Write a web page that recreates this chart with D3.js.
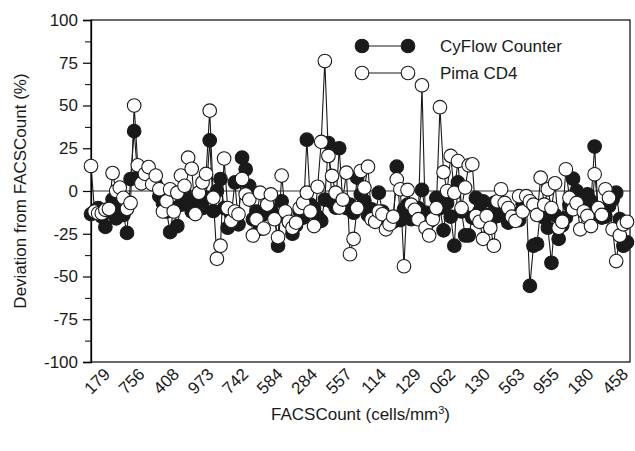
<!DOCTYPE html>
<html lang="en">
<head>
<meta charset="utf-8">
<title>Deviation from FACSCount</title>
<script src="https://cdn.jsdelivr.net/npm/d3@7"></script>
<style>
  body { margin: 0; background: #fff; }
  text { font-family: "Liberation Sans", Arial, Helvetica, sans-serif; fill: #1a1a1a; }
</style>
</head>
<body>
<div id="chart"></div>
<script>
// sample labels shown on the x axis (every ~10th sample)
var xLabels = ["179", "756", "408", "973", "742", "584", "284", "557",
               "114", "129", "062", "130", "563", "955", "180", "458"];
var yTicks = [-100, -75, -50, -25, 0, 25, 50, 75, 100];

// CyFlow Counter deviation (%) per sample
var cyflow = [
  -13.5, -12, -10, -15, -21, -12, -5, -16, -8, -14,
  -24.5, 7, 35, 8, 9, 6, 9, 5, 4, -3,
  -7, -12, -24, -10, -20.5, -8, -1, -7, -12, -5,
  -7, -10, -4, 29.6, -11.7, 0, 7, -10, -21.5, -14,
  5, -19.5, 19.5, 12.7, 3, -16.5, -12, -22, -13.5, -12,
  -10.7, -15, -32, -6, -14.6, -18, -25, -20, -12, -15.6,
  30, -8, -10, -15, -17.5, -5, 28, -6.5, -9.7, 25,
  -7, -10, -8, -12.7, 7.8, -2, -5.8, -14, -10.7, -16,
  -1, -12, -20, -16, -18, 14.2, -17, -10.7, -8, -16.5,
  -13, -10, 0.6, -12.7, -18, -14, -4, -10, -23, -7,
  -15, -32, 5, -12, -26, -26, -15.6, -4, -12, -6,
  -14, -18, -7, -14.6, -12, -9, -18.5, -15, -13.6, -17,
  -7.8, -5, -55.5, -32, -31, -10, -15.6, -21.5, -42, -14,
  -28, -20, -15.6, -8, 7.2, 0, -9, -12, -2, -6,
  26, -14, -15.6, -15, -8.8, -5, -1, -16.5, -32, -30
];

// Pima CD4 deviation (%) per sample
var pima = [
  14.6, -12, -13, -13, -11, -10.5, 10.5, 0, 2, -4,
  -10.5, -7, 50, 15, 4.5, 10, 14, 4, 9, 1,
  -12, -6, 1, -12, -1, 9, 3, 19.5, 13, -13.5,
  -1, 5, 10, 47, -4, -39.6, -32, 19, -10, -17.5,
  -12, -13.6, 7, -2, -5, -26, -16.5, -1, -22, -8,
  -2, -16.5, -27, 9, -12, -18, -21.5, -18.5, -10, -7,
  -1, -12, -20.5, 2.5, 28.7, 76, 20.5, 8.8, -1, -9.7,
  -5, 10.7, -37, -28, -10, 11.7, 2, 14.2, -16.5, -18,
  -12, -13.6, -22.4, -19.5, -15, 6.8, 1, -44, 0.6, -8,
  -11, -16.5, 61.8, -21.5, -26, -16.5, -10, 49, 11, 0,
  20.5, -1, 17.5, -10, 2, 15, 15.6, -14.6, -18, -28,
  -14.6, -21.5, -32, -6, 1, -7, -10, -15, -17.5, -3,
  -12, -3, -6, -8, -14, 7.8, -8, 1, -10, 4.5,
  -21.5, -18, 12.7, -4, -10.7, -7, -22.4, -12, -14.6, -20.5,
  9.8, -10, -14, 1, -4, -22.4, -41, -26, -19.5, -18
];

var w = 635, h = 451;
var plotL = 91, plotR = 630, plotT = 20, plotB = 362;
var r = 6.8;

var svg = d3.select("#chart").append("svg")
    .attr("width", w)
    .attr("height", h);

var x = d3.scaleLinear().domain([0, cyflow.length - 1]).range([plotL, plotR - 3]);
var y = d3.scaleLinear().domain([-100, 100]).range([plotB, plotT]);
var xl = d3.scalePoint().domain(xLabels).range([107, 625]);

// frame
svg.append("rect")
   .attr("x", plotL).attr("y", plotT)
   .attr("width", plotR - plotL).attr("height", plotB - plotT)
   .attr("fill", "none").attr("stroke", "#1a1a1a").attr("stroke-width", 1.3);

// zero reference line
svg.append("line")
   .attr("x1", plotL).attr("x2", plotR)
   .attr("y1", y(0)).attr("y2", y(0))
   .attr("stroke", "#333").attr("stroke-width", 1);

// y axis with major and minor ticks (plain hyphen minus, as in the figure)
var yAxis = svg.append("g")
   .attr("transform", "translate(" + plotL + ",0)")
   .call(d3.axisLeft(y).tickValues(yTicks).tickSize(8).tickPadding(5)
           .tickFormat(function(d){ return String(d); }));
yAxis.select(".domain").attr("stroke-width", 1.3);
yAxis.selectAll("line").attr("stroke-width", 1.2);
yAxis.selectAll("text").style("font-size", "17px");
svg.append("g")
   .attr("transform", "translate(" + plotL + ",0)")
   .call(d3.axisLeft(y).tickValues(d3.range(-87.5, 100, 25)).tickSize(6).tickFormat(""))
   .select(".domain").remove();

// x labels, rotated
svg.append("g").selectAll("text")
   .data(xLabels)
   .enter()
   .append("text")
   .attr("transform", function(d){ return "translate(" + xl(d) + "," + (plotB + 9) + ") rotate(-45)"; })
   .attr("text-anchor", "end")
   .attr("dy", "0.35em")
   .style("font-size", "17px")
   .text(function(d){ return d; });

// axis titles
svg.append("text")
   .attr("transform", "translate(26," + ((plotT + plotB) / 2) + ") rotate(-90)")
   .attr("text-anchor", "middle")
   .style("font-size", "17px")
   .text("Deviation from FACSCount (%)");

var xt = svg.append("text")
   .attr("x", (plotL + plotR) / 2)
   .attr("y", 420)
   .attr("text-anchor", "middle")
   .style("font-size", "17px");
xt.append("tspan").text("FACSCount (cells/mm");
xt.append("tspan").attr("dy", "-6").style("font-size", "11px").text("3");
xt.append("tspan").attr("dy", "6").text(")");

// series
var line = d3.line()
   .x(function(d, i){ return x(i); })
   .y(function(d){ return y(d); });

function drawSeries(data, fill) {
  svg.append("path")
     .datum(data)
     .attr("d", line)
     .attr("fill", "none")
     .attr("stroke", "#1a1a1a")
     .attr("stroke-width", 1.1);
  svg.append("g").selectAll("circle")
     .data(data)
     .enter()
     .append("circle")
     .attr("cx", function(d, i){ return x(i); })
     .attr("cy", function(d){ return y(d); })
     .attr("r", r)
     .attr("fill", fill)
     .attr("stroke", "#1a1a1a")
     .attr("stroke-width", 1.1);
}
drawSeries(cyflow, "#1a1a1a");
drawSeries(pima, "#fff");

// legend
var legend = [
  {name: "CyFlow Counter", fill: "#1a1a1a", y: 46},
  {name: "Pima CD4", fill: "#fff", y: 73}
];
var lg = svg.append("g").selectAll("g")
   .data(legend)
   .enter()
   .append("g")
   .attr("transform", function(d){ return "translate(0," + d.y + ")"; });
lg.append("line")
  .attr("x1", 362).attr("x2", 408)
  .attr("stroke", "#1a1a1a").attr("stroke-width", 1.1);
lg.selectAll("circle")
  .data(function(d){ return [d, d]; })
  .enter()
  .append("circle")
  .attr("cx", function(d, i){ return i ? 408 : 362; })
  .attr("r", r)
  .attr("fill", function(d){ return d.fill; })
  .attr("stroke", "#1a1a1a")
  .attr("stroke-width", 1.1);
lg.append("text")
  .attr("x", 440)
  .attr("dy", "0.35em")
  .style("font-size", "17px")
  .text(function(d){ return d.name; });
</script>
</body>
</html>
